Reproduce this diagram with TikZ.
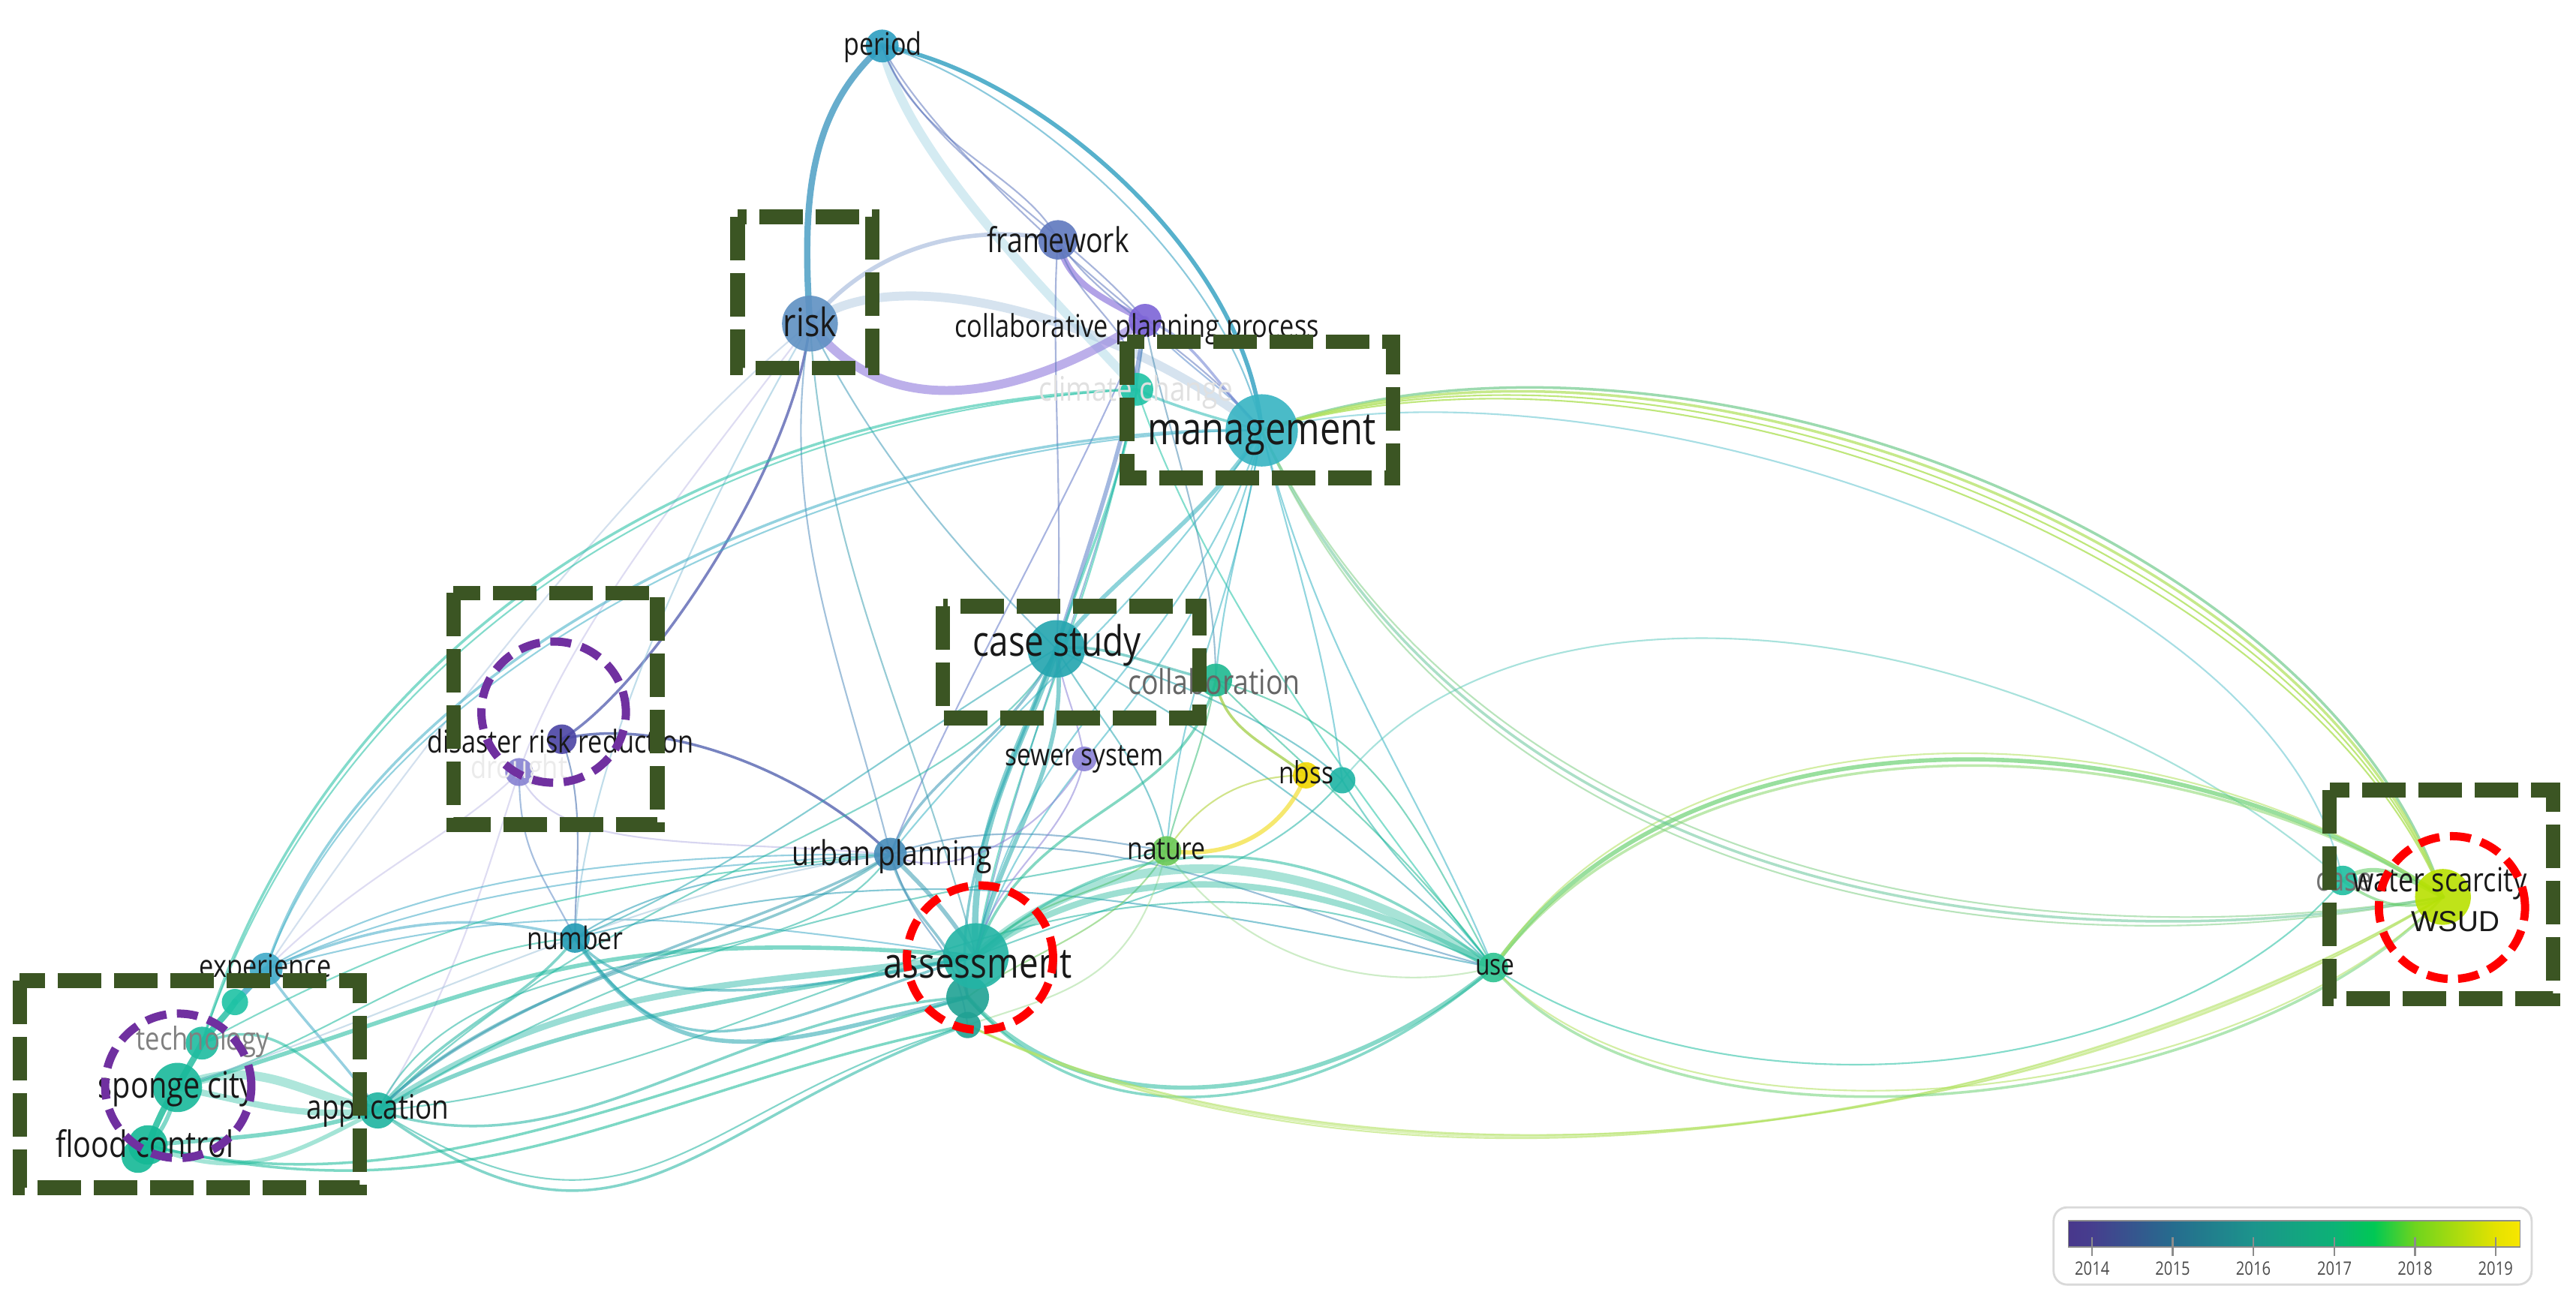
\documentclass[tikz,border=0pt]{standalone}
\usepackage{fontspec}
\newfontfamily\lf{Open Sans}[FakeStretch=0.82]
\newfontfamily\af{Liberation Sans}
\pgfdeclarelayer{bgfill}
\pgfdeclarelayer{edges}
\pgfdeclarelayer{labels}
\pgfdeclarelayer{annot}
\pgfsetlayers{bgfill,edges,main,labels,annot}
\definecolor{kper}{RGB}{45,158,192}
\definecolor{kfw}{RGB}{95,120,190}
\definecolor{krisk}{RGB}{95,145,195}
\definecolor{kcpp}{RGB}{125,100,215}
\definecolor{kcc}{RGB}{30,195,165}
\definecolor{kmg}{RGB}{55,180,195}
\definecolor{kcs}{RGB}{35,165,175}
\definecolor{kcol}{RGB}{30,185,145}
\definecolor{kdrr}{RGB}{75,68,165}
\definecolor{kdro}{RGB}{135,130,210}
\definecolor{ksew}{RGB}{140,130,215}
\definecolor{knbss}{RGB}{240,215,0}
\definecolor{knb}{RGB}{30,180,165}
\definecolor{kup}{RGB}{70,140,185}
\definecolor{knat}{RGB}{105,200,85}
\definecolor{knum}{RGB}{35,155,180}
\definecolor{kas}{RGB}{35,180,165}
\definecolor{kuse}{RGB}{45,195,145}
\definecolor{kexp}{RGB}{65,170,200}
\definecolor{ktech}{RGB}{30,188,160}
\definecolor{ksc}{RGB}{25,185,155}
\definecolor{kfc}{RGB}{20,185,150}
\definecolor{kapp}{RGB}{30,180,160}
\definecolor{kcw}{RGB}{30,190,160}
\definecolor{kws}{RGB}{185,225,0}
\definecolor{kyg}{RGB}{175,225,90}
\definecolor{kgbox}{RGB}{59,85,35}
\definecolor{kpur}{RGB}{112,48,160}
\definecolor{kred}{RGB}{255,0,0}
\definecolor{txt}{RGB}{25,25,25}
\definecolor{g0}{RGB}{72,55,140}
\definecolor{g1}{RGB}{70,62,142}
\definecolor{g2}{RGB}{38,108,142}
\definecolor{g3}{RGB}{28,148,140}
\definecolor{g4}{RGB}{12,178,118}
\definecolor{g45}{RGB}{0,200,85}
\definecolor{g5}{RGB}{110,212,30}
\definecolor{g6}{RGB}{228,226,0}
\definecolor{g7}{RGB}{248,230,0}
\newcommand\edg[5][]{\draw[#1] (#2.center) .. controls +(#4) and +(#5) .. (#3.center);}
\begin{document}
\begin{tikzpicture}[x=0.021894cm,y=-0.021894cm,
  nd/.style={circle,inner sep=0pt,minimum size=#1*0.043788cm,fill opacity=0.9,draw=none},
  lb/.style={font={\lf\fontsize{#1}{#1}\selectfont},inner sep=0pt,text=txt},
  w1/.style={line width=0.6pt},
  w2/.style={line width=1.0pt},
  w3/.style={line width=1.6pt},
  w4/.style={line width=2.4pt},
  w5/.style={line width=3.4pt},
  gbox/.style={draw=kgbox,line width=0.195cm,dash pattern=on 0.58cm off 0.17cm},
  pcirc/.style={draw=kpur,line width=0.11cm,dash pattern=on 0.28cm off 0.14cm},
  rcirc/.style={draw=kred,line width=0.11cm,dash pattern=on 0.28cm off 0.14cm}]
\useasboundingbox (0,0) rectangle (1568,792);
\begin{pgfonlayer}{bgfill}
\fill[white] (0,0) rectangle (1568,792);
\end{pgfonlayer}

% ---------- nodes ----------
\node[nd=10,fill=kper] (per) at (537,28) {};
\node[nd=12,fill=kfw] (fw) at (644,146) {};
\node[nd=17,fill=krisk] (risk) at (493,197) {};
\node[nd=10,fill=kcpp] (cpp) at (697,195) {};
\node[nd=10,fill=kcc] (cc) at (692,237) {};
\node[nd=22,fill=kmg] (mg) at (768,262) {};
\node[nd=17.5,fill=kcs] (cs) at (643,395) {};
\node[nd=10,fill=kcol] (col) at (740,414) {};
\node[nd=9,fill=kdrr] (drr) at (342,450) {};
\node[nd=8.5,fill=kdro] (dro) at (316,470) {};
\node[nd=7.5,fill=ksew] (sew) at (660,462) {};
\node[nd=8,fill=knbss] (nbss) at (795,472) {};
\node[nd=8,fill=knb] (nb) at (817,475) {};
\node[nd=10,fill=kup] (up) at (542,520) {};
\node[nd=9,fill=knat] (nat) at (710,518) {};
\node[nd=9,fill=knum] (num) at (350,571) {};
\node[nd=13,fill=kas!90!black] (as2) at (589,607) {};
\node[nd=8,fill=kas!90!black] (as3) at (589,624) {};
\node[nd=20,fill=kas] (as) at (594,582) {};
\node[nd=9,fill=kuse] (use) at (909,589) {};
\node[nd=10,fill=kexp] (exp) at (162,590) {};
\node[nd=8,fill=kcc] (nn) at (143,610) {};
\node[nd=10,fill=ktech] (tech) at (123,635) {};
\node[nd=15,fill=ksc] (sc) at (108,662) {};
\node[nd=12,fill=kfc] (fc) at (90,697) {};
\node[nd=10,fill=kfc] (fcb) at (84,704) {};
\node[nd=11,fill=kapp] (app) at (230,676) {};
\node[nd=9,fill=kcw] (cw) at (1426,536) {};
\node[nd=17,fill=kws] (ws) at (1487,546) {};

% ---------- edges ----------
\begin{pgfonlayer}{edges}
\begin{scope}[draw opacity=0.55,line cap=round]
% top
\edg[w4,draw=kper!60!krisk,draw opacity=.8]{per}{risk}{-45,40}{-5,-75}
\edg[w3,draw=kper,draw opacity=.8]{per}{mg}{90,15}{-10,-110}
\edg[w1,draw=kper]{per}{mg}{80,22}{-22,-105}
\edg[w5,draw=kper!45!white,draw opacity=.45]{per}{cc}{15,70}{-40,-45}
\edg[w1,draw=kfw]{per}{fw}{20,60}{-20,-40}
\edg[w1,draw=kfw]{per}{cpp}{25,50}{-50,-40}
\edg[w1,draw=kfw]{per}{cpp}{20,60}{-40,-50}
\edg[w3,draw=krisk!50!kfw!60!white,draw opacity=.6]{risk}{fw}{40,-50}{-50,-10}
\edg[w5,draw=krisk!50!white,draw opacity=.5]{risk}{mg}{50,-40}{-90,-70}
\edg[w5,draw=kcpp!85!white,draw opacity=.6]{risk}{cpp}{50,65}{-70,45}
\edg[w4,draw=kcpp,draw opacity=.6]{fw}{cpp}{5,25}{-30,-15}
\edg[w1,draw=kfw]{fw}{mg}{25,40}{-40,-50}
\edg[w1,draw=kfw]{fw}{cc}{10,40}{0,-40}
\edg[w1,draw=kfw]{fw}{cs}{-5,60}{5,-80}
\edg[w2,draw=kcpp!70!kmg]{cpp}{mg}{30,10}{-30,-30}
\edg[w1,draw=kcpp!50!kmg]{cpp}{mg}{20,25}{-20,-25}
\edg[w3,draw=kcpp!60!kcs]{cpp}{cs}{-10,70}{25,-80}
\edg[w1,draw=kcpp!50!kas]{cpp}{as}{-10,120}{30,-150}
\edg[w1,draw=kcpp!50!kcol]{cpp}{col}{10,60}{0,-80}
\edg[w1,draw=kcpp!50!kup]{cpp}{up}{-40,100}{40,-100}
\edg[w2,draw=kcc!50!kmg]{cc}{mg}{20,10}{-20,-5}
\edg[w2,draw=kcc]{cc}{cs}{-10,60}{20,-60}
\edg[w1,draw=kcc]{cc}{as}{-30,150}{20,-120}
\edg[w1,draw=kcc]{cc}{use}{40,120}{-80,-100}
\edg[w3,draw=kmg!70!kcs]{mg}{cs}{-40,60}{40,-50}
\edg[w1,draw=kmg]{mg}{as}{-50,150}{30,-150}
\edg[w1,draw=kmg]{mg}{as}{-40,170}{40,-130}
\edg[w1,draw=kmg]{mg}{col}{-10,60}{5,-60}
\edg[w1,draw=kmg]{mg}{use}{40,150}{-50,-120}
\edg[w1,draw=kmg]{mg}{nb}{20,80}{-10,-80}
\edg[w1,draw=kmg]{mg}{nat}{-20,120}{10,-110}
\edg[w1,draw=kmg]{mg}{up}{-80,120}{80,-100}
% risk and disaster risk reduction
\edg[w2,draw=kdrr!70!krisk,draw opacity=.75]{drr}{risk}{50,-30}{-10,90}
\edg[w2,draw=kdrr!70!kup,draw opacity=.75]{drr}{up}{60,-15}{-50,-50}
\edg[w1,draw=kdrr!60!knum]{drr}{num}{15,40}{0,-40}
\edg[w1,draw=kdro!60!knum]{dro}{num}{0,50}{-20,-40}
\edg[w1,draw=kdro!60!white]{dro}{up}{20,50}{-120,-10}
\edg[w1,draw=kdro!50!white]{dro}{app}{-20,60}{50,-80}
\edg[w1,draw=kdro!50!white]{dro}{exp}{-40,40}{60,-60}
\edg[w1,draw=kdro!50!white]{risk}{dro}{-60,80}{30,-90}
\edg[w1,draw=krisk!40!kper!60!white]{risk}{num}{-80,140}{5,-100}
\edg[w1,draw=krisk!50!white]{risk}{exp}{-100,80}{80,-120}
\edg[w1,draw=krisk!60!kup]{risk}{up}{-20,120}{-30,-120}
\edg[w1,draw=krisk!50!kcs]{risk}{cs}{40,80}{-60,-60}
\edg[w1,draw=krisk!50!kas]{risk}{as}{10,150}{-40,-150}
% left cluster
\edg[w2,draw=kexp!60!kmg]{exp}{mg}{60,-190}{-250,-5}
\edg[w1,draw=kexp!60!kmg]{exp}{mg}{64,-186}{-250,0}
\edg[w2,draw=ktech!60!kcc]{tech}{cc}{70,-230}{-280,10}
\edg[w1,draw=ktech!60!kcc]{tech}{cc}{74,-226}{-280,15}
\edg[w4,draw=kexp,draw opacity=.8]{exp}{nn}{-5,5}{5,-5}
\edg[w4,draw=ktech,draw opacity=.8]{nn}{tech}{-5,8}{5,-8}
\edg[w4,draw=ksc,draw opacity=.8]{tech}{sc}{-5,10}{5,-10}
\edg[w4,draw=kfc,draw opacity=.8]{sc}{fc}{-8,10}{5,-12}
\edg[w3,draw=ksc]{sc}{fc}{-3,12}{10,-8}
\edg[w5,draw=ksc!70!white,draw opacity=.5]{sc}{app}{50,-20}{-50,-10}
\edg[w4,draw=ksc!70!white]{sc}{app}{50,10}{-50,5}
\edg[w3,draw=ksc]{fc}{app}{60,-5}{-50,15}
\edg[w3,draw=kfc!70!white]{fc}{app}{60,25}{-50,25}
\edg[w2,draw=ktech]{tech}{app}{50,-20}{-40,-20}
\edg[w2,draw=kexp]{exp}{app}{20,30}{-20,-30}
\edg[w2,draw=kexp]{exp}{num}{60,-25}{-70,-20}
\edg[w1,draw=kexp]{exp}{up}{100,-60}{-150,0}
\edg[w1,draw=kexp]{exp}{up}{110,-50}{-160,10}
\edg[w1,draw=kexp]{exp}{as}{150,-40}{-200,-30}
\edg[w2,draw=kapp]{app}{num}{40,-50}{-30,40}
\edg[w2,draw=kapp!50!kup]{app}{up}{90,-90}{-80,60}
\edg[w1,draw=kapp]{app}{up}{60,-120}{-60,90}
\edg[w1,draw=kapp]{app}{cs}{150,-150}{-50,100}
\edg[w4,draw=kapp!60!kas,draw opacity=.45]{app}{as}{120,-80}{-150,20}
\edg[w3,draw=kapp!60!kas]{app}{as}{120,-60}{-150,30}
\edg[w2,draw=kapp]{app}{as2}{120,40}{-150,10}
\edg[w2,draw=kapp]{app}{as3}{150,110}{-170,60}
\edg[w1,draw=kapp]{app}{as3}{160,100}{-170,50}
\edg[w1,draw=kapp]{app}{use}{250,-20}{-250,-120}
\edg[w1,draw=kapp]{app}{nat}{200,-120}{-150,30}
\edg[w3,draw=ksc]{sc}{as}{200,-60}{-250,-20}
\edg[w2,draw=kfc]{fc}{as3}{200,50}{-200,40}
\edg[w2,draw=kfc]{fc}{as2}{150,40}{-200,60}
\edg[w1,draw=ksc]{sc}{num}{100,-30}{-100,10}
\edg[w1,draw=ktech]{tech}{up}{150,-80}{-200,20}
% number and urban planning
\edg[w3,draw=knum!60!kas]{num}{as2}{60,90}{-120,30}
\edg[w2,draw=knum!60!kas]{num}{as}{65,95}{-130,40}
\edg[w2,draw=knum!60!kas]{num}{as}{40,50}{-100,20}
\edg[w1,draw=knum]{num}{up}{60,-40}{-60,10}
\edg[w1,draw=knum]{num}{use}{200,-50}{-250,-50}
\edg[w3,draw=kup!60!kas]{up}{as}{25,25}{-20,-30}
\edg[w2,draw=kup!60!kas]{up}{as2}{10,40}{-10,-40}
\edg[w1,draw=kup]{up}{as3}{20,60}{-10,-60}
\edg[w2,draw=kup!60!kcs]{up}{cs}{20,-50}{-30,60}
\edg[w2,draw=kup!60!kapp]{up}{app}{-60,40}{80,-80}
\edg[w1,draw=kup]{up}{use}{150,-20}{-150,-40}
\edg[w1,draw=kup]{up}{nat}{60,-20}{-60,-10}
\edg[w1,draw=kup!50!white]{up}{sc}{-150,20}{150,-50}
% case study / collaboration
\edg[w4,draw=kcs!70!kas]{cs}{as}{-20,60}{-5,-80}
\edg[w3,draw=kcs!70!kas]{cs}{as}{10,70}{15,-70}
\edg[w2,draw=kcs]{cs}{as2}{-30,80}{-10,-70}
\edg[w2,draw=kcs!60!kcol]{cs}{col}{30,-5}{-30,-5}
\edg[w1,draw=kcs]{cs}{nat}{30,50}{-10,-50}
\edg[w1,draw=kcs]{cs}{use}{80,40}{-80,-80}
\edg[w1,draw=kcs]{cs}{num}{-100,60}{100,-40}
\edg[w1,draw=kcs]{cs}{nb}{60,10}{-30,-30}
\edg[w2,draw=kcol]{col}{as}{-20,80}{30,-90}
\edg[w1,draw=kcol]{col}{use}{60,60}{-60,-80}
\edg[w1,draw=kcol]{col}{use}{100,30}{-50,-90}
\edg[w1,draw=kcol!60!knat]{col}{nat}{-10,50}{10,-40}
\edg[w2,draw=kcol!40!knbss,draw opacity=.7]{col}{nbss}{5,30}{-25,-20}
\edg[w3,draw=knbss!80!white,draw opacity=.7]{nbss}{nat}{-15,35}{40,5}
\edg[w1,draw=knbss!50!knat]{nbss}{nat}{-40,0}{20,-30}
\edg[w1,draw=knb]{nb}{use}{30,50}{-40,-50}
\edg[w1,draw=knb]{nb}{as}{-50,60}{100,-40}
\edg[w1,draw=knb!70!white]{nb}{cw}{120,-150}{-170,-150}
\edg[w1,draw=ksew]{sew}{up}{-20,40}{40,20}
\edg[w1,draw=ksew]{sew}{as}{-10,50}{10,-50}
\edg[w1,draw=ksew]{sew}{cs}{-5,-30}{5,30}
\edg[w1,draw=knat]{nat}{as}{-40,30}{40,-40}
\edg[w1,draw=knat]{nat}{as2}{-30,50}{40,-30}
\edg[w1,draw=knat!60!white]{nat}{use}{40,60}{-80,20}
\edg[w1,draw=knat!60!white]{nat}{as3}{-20,80}{60,-20}
% assessment - use - water scarcity
\edg[w5,draw=kas!60!kuse,draw opacity=.4]{as}{use}{90,-80}{-110,-70}
\edg[w4,draw=kas!60!kuse,draw opacity=.45]{as}{use}{90,-65}{-110,-60}
\edg[w2,draw=kas!60!kuse]{as}{use}{100,-90}{-100,-80}
\edg[w3,draw=kas!60!kuse]{as2}{use}{70,80}{-110,90}
\edg[w2,draw=kas!60!kuse]{as2}{use}{75,90}{-110,95}
\edg[w2,draw=kyg!80!white]{as3}{ws}{250,120}{-250,150}
\edg[w1,draw=kyg]{as3}{ws}{255,126}{-250,145}
\edg[w1,draw=kyg]{as3}{ws}{245,115}{-250,155}
\edg[w3,draw=kuse!50!kyg,draw opacity=.7]{use}{ws}{120,-170}{-160,-110}
\edg[w2,draw=kuse!30!kyg]{use}{ws}{125,-165}{-160,-105}
\edg[w1,draw=kyg]{use}{ws}{115,-175}{-160,-115}
\edg[w2,draw=kuse!50!kyg]{use}{ws}{110,130}{-120,130}
\edg[w1,draw=kyg]{use}{ws}{115,125}{-120,125}
\edg[w1,draw=kcw]{use}{cw}{150,100}{-100,120}
\edg[w2,draw=kmg!50!kyg,draw opacity=.7]{mg}{ws}{250,-90}{-70,-220}
\edg[w2,draw=kyg,draw opacity=.7]{mg}{ws}{250,-85}{-75,-215}
\edg[w1,draw=kyg,draw opacity=.8]{mg}{ws}{250,-80}{-80,-210}
\edg[w1,draw=kyg,draw opacity=.8]{mg}{ws}{250,-75}{-85,-205}
\edg[w1,draw=kmg!80!white]{mg}{cw}{200,-50}{-40,-200}
\edg[w2,draw=kmg!60!kyg]{mg}{ws}{140,300}{-220,40}
\edg[w1,draw=kmg!40!kyg]{mg}{ws}{145,295}{-220,35}
\edg[w1,draw=kmg!40!kyg]{mg}{ws}{135,305}{-220,45}
\edg[w3,draw=kcw!60!kws]{cw}{ws}{20,-15}{-20,-10}
\edg[w2,draw=kcw!60!kws]{cw}{ws}{20,15}{-20,10}
\end{scope}
\end{pgfonlayer}

% ---------- labels ----------
\begin{pgfonlayer}{labels}
\node[lb=11.8] (per-l) at (537.5,28.5) {period};
\node[lb=13] (fw-l) at (644,146) {framework};
\node[lb=14.8] (risk-l) at (493,196) {risk};
\node[lb=11.9] (cpp-l) at (692,200.5) {collaborative planning process};
\node[lb=12.8,text=black!12] (cc-l) at (691.5,239) {climate change};
\node[lb=17] (mg-l) at (768,265) {management};
\node[lb=15.9] (cs-l) at (643.5,393) {case study};
\node[lb=13,text=black!60] (col-l) at (739,415) {collaboration};
\node[lb=11.9] (drr-l) at (341,451) {disaster risk reduction};
\node[lb=12,text=black!8] (dro-l) at (316,469) {drought};
\node[lb=11.6] (sew-l) at (660,462) {sewer system};
\node[lb=11.6] (nbss-l) at (795,470) {nbss};
\node[lb=13] (up-l) at (543,521.5) {urban planning};
\node[lb=11.7] (nat-l) at (710,517) {nature};
\node[lb=11.8] (num-l) at (350,571) {number};
\node[lb=15.9] (as-l) at (595,587) {assessment};
\node[lb=11] (use-l) at (910,589) {use};
\node[lb=11.9] (exp-l) at (161.5,590) {experience};
\node[lb=12,text=black!50] (tech-l) at (123.5,634) {technology};
\node[lb=13.8] (sc-l) at (107.5,663) {sponge city};
\node[lb=13.8] (fc-l) at (88,696) {flood control};
\node[lb=12.8] (app-l) at (230,676) {application};
\node[lb=12.6,text=black!55] (cw-l) at (1427,537) {case};
\node[lb=12.6] (ws-l) at (1485,538) {water scarcity};
\node[font={\af\fontsize{11}{11}\selectfont},inner sep=0pt,text=txt] (wsud-l) at (1494.5,561) {WSUD};
\end{pgfonlayer}

% ---------- annotations ----------
\begin{pgfonlayer}{annot}
\draw[gbox] (449,132) rectangle (531,224);
\draw[gbox] (686,208) rectangle (848,291);
\draw[gbox] (574,369) rectangle (730,437);
\draw[gbox] (276,361) rectangle (400,502);
\draw[gbox] (12,597) rectangle (219,723);
\draw[gbox] (1418,481) rectangle (1554,608);
\draw[pcirc] (337,433.5) ellipse [x radius=0.963cm,y radius=0.941cm];
\draw[pcirc] (108.5,661) ellipse [x radius=0.974cm,y radius=0.963cm];
\draw[rcirc] (596.5,583) ellipse [x radius=0.974cm,y radius=0.963cm];
\draw[rcirc] (1492.5,552.5) ellipse [x radius=0.974cm,y radius=0.952cm];
\end{pgfonlayer}

% ---------- legend ----------
\draw[draw=black!15,line width=0.8pt,rounded corners=0.18cm] (1250,735) rectangle (1541,782);
\shade[left color=g0,right color=g1] (1259,743) rectangle (1273.5,759);
\shade[left color=g1,right color=g2] (1273.3,743) rectangle (1322.5,759);
\shade[left color=g2,right color=g3] (1322.3,743) rectangle (1371.6,759);
\shade[left color=g3,right color=g4] (1371.4,743) rectangle (1421,759);
\shade[left color=g4,right color=g45] (1420.8,743) rectangle (1445,759);
\shade[left color=g45,right color=g5] (1444.8,743) rectangle (1470,759);
\shade[left color=g5,right color=g6] (1469.8,743) rectangle (1519,759);
\shade[left color=g6,right color=g7] (1518.8,743) rectangle (1534,759);
\draw[black!45,line width=0.5pt] (1259,743) rectangle (1534,759);
\foreach \xx/\yr in {1273.5/2014,1322.5/2015,1371.6/2016,1421/2017,1470/2018,1519/2019}{
  \draw[black!45,line width=0.6pt] (\xx,753) -- (\xx,764.5);
  \node[font={\lf\fontsize{7}{7}\selectfont},text=black!70,inner sep=0pt] (yr\yr) at (\xx,772) {\yr};
}
\end{tikzpicture}
\end{document}
